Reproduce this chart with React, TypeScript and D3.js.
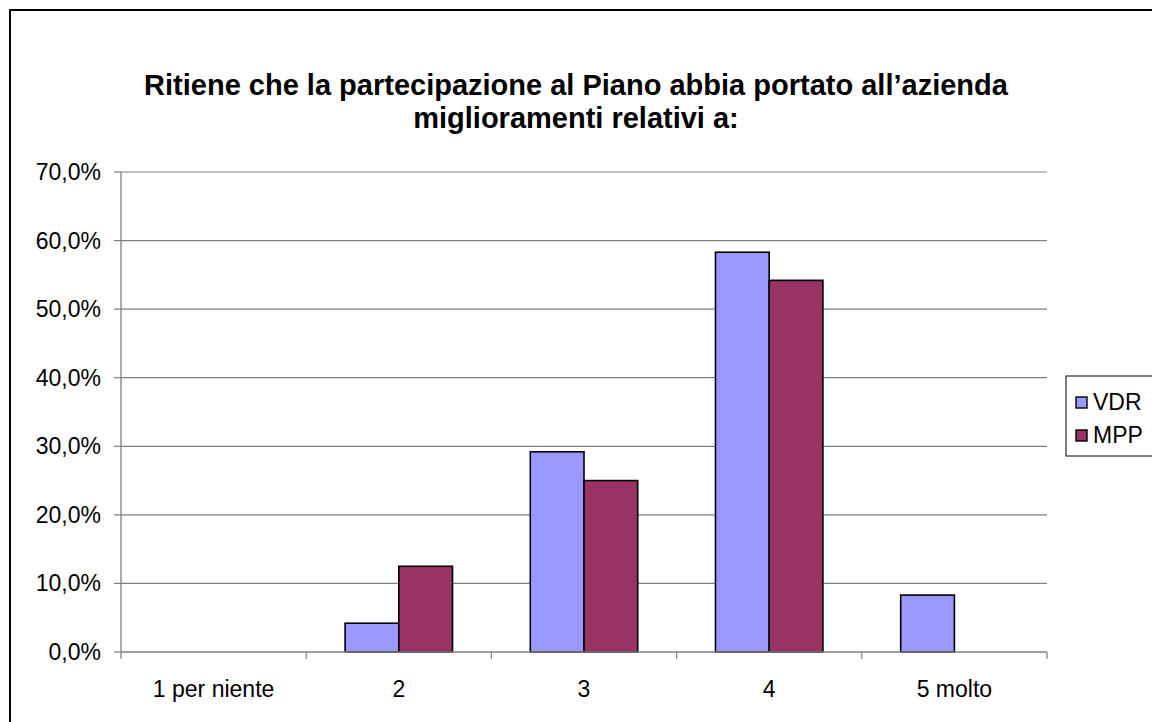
import React from "react";
import * as d3 from "d3";

const categories = ["1 per niente", "2", "3", "4", "5 molto"];
const seriesNames = ["VDR", "MPP"];
const vdrValues = [0, 4.2, 29.2, 58.3, 8.3];
const mppValues = [0, 12.5, 25.0, 54.2, 0];
const yTicks = [0, 10, 20, 30, 40, 50, 60, 70];
const colors = ["#9999FF", "#993366"];
const titleLines = [
  "Ritiene che la partecipazione al Piano abbia portato all\u2019azienda",
  "miglioramenti relativi a:",
];

export default function App() {
  const W = 1152, H = 722;
  const left = 121, right = 1047, top = 172, bottom = 652;
  const x = d3.scaleBand<string>().domain(categories).range([left, right]).paddingInner(0).paddingOuter(0);
  const y = d3.scaleLinear().domain([0, 70]).range([bottom, top]);
  const bw = x.bandwidth();
  const barW = bw * 0.29;
  const series = [vdrValues, mppValues];
  const font = "'Liberation Sans', Arial, sans-serif";
  return (
    <svg width={W} height={H} style={{ position: "absolute", left: 0, top: 0, display: "block" }}>
      <rect x={0} y={0} width={W} height={H} fill="#fff" />
      <rect x={10} y={10} width={W + 20} height={H + 20} fill="none" stroke="#000" strokeWidth={2} />
      {titleLines.map((t, i) => (
        <text key={i} x={576} y={95 + i * 33} textAnchor="middle" fontFamily={font} fontWeight="bold" fontSize={29}>
          {t}
        </text>
      ))}
      {yTicks.slice(1).map((t) => (
        <line key={t} x1={left} x2={right} y1={y(t)} y2={y(t)} stroke="#7f7f7f" strokeWidth={1.2} />
      ))}
      {categories.map((c, ci) =>
        series.map((vals, si) => {
          const v = vals[ci];
          if (!v) return null;
          const cx = x(c)! + bw / 2;
          const x0 = cx - barW + si * barW;
          return (
            <rect key={c + si} x={x0} y={y(v)} width={barW} height={y(0) - y(v)} fill={colors[si]} stroke="#000" strokeWidth={1.6} />
          );
        })
      )}
      <line x1={left} x2={left} y1={top} y2={bottom} stroke="#7f7f7f" strokeWidth={1.3} />
      <line x1={left} x2={right} y1={bottom} y2={bottom} stroke="#7f7f7f" strokeWidth={1.3} />
      {yTicks.map((t) => (
        <g key={t}>
          <line x1={left - 7} x2={left} y1={y(t)} y2={y(t)} stroke="#7f7f7f" strokeWidth={1.2} />
          <text x={left - 20} y={y(t) + 8} textAnchor="end" fontFamily={font} fontSize={23}>
            {t.toFixed(1).replace(".", ",") + "%"}
          </text>
        </g>
      ))}
      {[...categories.map((c) => x(c)!), right].map((p, i) => (
        <line key={i} x1={p} x2={p} y1={bottom} y2={bottom + 7} stroke="#7f7f7f" strokeWidth={1.2} />
      ))}
      {categories.map((c) => (
        <text key={c} x={x(c)! + bw / 2} y={697} textAnchor="middle" fontFamily={font} fontSize={23}>
          {c}
        </text>
      ))}
      <rect x={1066} y={376} width={100} height={80} fill="#fff" stroke="#000" strokeWidth={1} />
      {seriesNames.map((s, i) => (
        <g key={s}>
          <rect x={1076} y={397 + i * 33} width={11} height={11} fill={colors[i]} stroke="#000" strokeWidth={1.4} />
          <text x={1093} y={410 + i * 33} fontFamily={font} fontSize={23}>
            {s}
          </text>
        </g>
      ))}
    </svg>
  );
}
